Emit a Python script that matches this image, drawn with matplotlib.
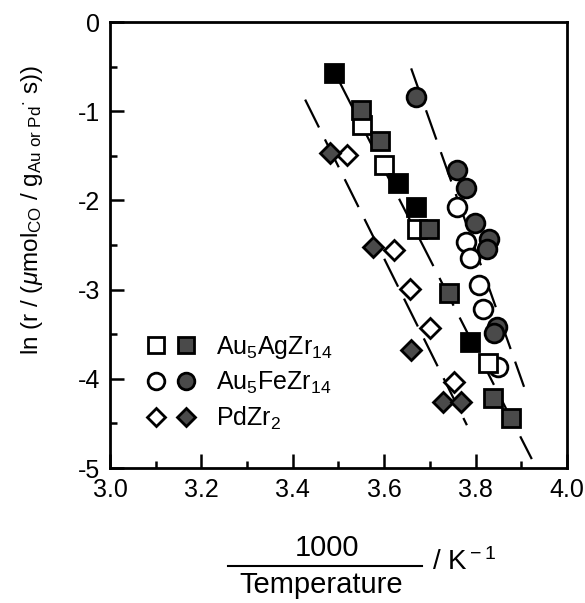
import numpy as np
import matplotlib
matplotlib.use('Agg')
import matplotlib.pyplot as plt
from matplotlib.legend_handler import HandlerTuple
from matplotlib.lines import Line2D
from matplotlib.ticker import MultipleLocator

matplotlib.rcParams['font.family'] = ['Liberation Sans', 'DejaVu Sans']
matplotlib.rcParams['mathtext.fontset'] = 'custom'
matplotlib.rcParams['mathtext.rm'] = 'Liberation Sans'
matplotlib.rcParams['mathtext.it'] = 'Liberation Sans:italic'

# ---------------------------------------------------------------- data
# Au5AgZr14 (squares): open / shaded / solid black
agX_open = [3.551, 3.600, 3.671, 3.827]
agY_open = [-1.15, -1.60, -2.32, -3.82]
agX_shad = [3.549, 3.591, 3.698, 3.742, 3.838, 3.877]
agY_shad = [-0.99, -1.33, -2.32, -3.04, -4.22, -4.44]
agX_blk = [3.490, 3.630, 3.670, 3.788]
agY_blk = [-0.57, -1.81, -2.07, -3.59]

# Au5FeZr14 (circles)
feX_open = [3.759, 3.779, 3.788, 3.807, 3.816, 3.849]
feY_open = [-2.07, -2.47, -2.65, -2.95, -3.22, -3.87]
feX_shad = [3.670, 3.759, 3.779, 3.799, 3.830, 3.825, 3.847, 3.840]
feY_shad = [-0.84, -1.66, -1.86, -2.25, -2.43, -2.55, -3.42, -3.49]

# PdZr2 (diamonds)
pdX_open = [3.519, 3.621, 3.656, 3.700, 3.753]
pdY_open = [-1.49, -2.56, -2.99, -3.43, -4.04]
pdX_shad = [3.481, 3.576, 3.659, 3.729, 3.768]
pdY_shad = [-1.47, -2.52, -3.68, -4.26, -4.26]

# fitted Arrhenius lines (end points)
fitPd = ([3.427, 3.781], [-0.87, -4.52])
fitAg = ([3.500, 3.923], [-0.65, -4.90])
fitFe = ([3.659, 3.906], [-0.52, -4.09])

labels = [r'Au$_5$AgZr$_{14}$', r'Au$_5$FeZr$_{14}$', r'PdZr$_2$']

# ---------------------------------------------------------------- plot
shade = '#4a4a4a'
ms_sq, ms_ci, ms_di = 12.5, 13.5, 10

fig = plt.figure(figsize=(5.85, 6.03), dpi=100)
ax = fig.add_axes([110/585, 1-468/603, 457/585, 446/603])

for fx, fy in [fitPd, fitAg, fitFe]:
    ax.plot(fx, fy, color='black', lw=1.6, dashes=(14, 6), zorder=1)

def pts(x, y, m, ms, fc):
    ax.plot(x, y, ls='none', marker=m, ms=ms, mfc=fc, mec='black', mew=2, zorder=3)

pts(pdX_open, pdY_open, 'D', ms_di, 'white')
pts(pdX_shad, pdY_shad, 'D', ms_di, shade)
pts(feX_open, feY_open, 'o', ms_ci, 'white')
pts(feX_shad, feY_shad, 'o', ms_ci, shade)
pts(agX_open, agY_open, 's', ms_sq, 'white')
pts(agX_shad, agY_shad, 's', ms_sq, shade)
pts(agX_blk, agY_blk, 's', ms_sq, 'black')

# legend with paired open/shaded markers
def h(m, ms, fc):
    return Line2D([], [], ls='none', marker=m, ms=ms, mfc=fc, mec='black', mew=2)

lsq, lci, ldi = 11, 12, 9
handles = [(h('s', lsq, 'white'), h('s', lsq, shade)),
           (h('o', lci, 'white'), h('o', lci, shade)),
           (h('D', ldi, 'white'), h('D', ldi, shade))]
ax.legend(handles, labels, handler_map={tuple: HandlerTuple(ndivide=None, pad=0.4)},
          loc='lower left', bbox_to_anchor=(0.03, 0.03), frameon=False,
          fontsize=18, handlelength=2.0, labelspacing=0.36, handletextpad=0.8)

ax.set_xlim(3.0, 4.0)
ax.set_ylim(-5, 0)
ax.xaxis.set_minor_locator(MultipleLocator(0.1))
ax.yaxis.set_minor_locator(MultipleLocator(0.5))
ax.set_xticks(np.arange(3.0, 4.01, 0.2))
ax.set_xticklabels(['%.1f' % v for v in np.arange(3.0, 4.01, 0.2)])
ax.set_yticks(np.arange(-5, 0.1, 1))
ax.set_yticklabels(['%d' % v for v in np.arange(-5, 1, 1)])
ax.tick_params(which='both', direction='in', labelsize=18, width=1.8)
ax.tick_params(which='major', length=10, pad=7)
ax.tick_params(which='minor', length=5)
for s in ax.spines.values():
    s.set_linewidth(2)

ax.set_ylabel(r'ln (r / ($\mu$mol$_{\rm CO}$ / g$_{\rm Au\ or\ Pd}$$^{\cdot}$ s))',
              fontsize=17.5)
ax.yaxis.set_label_coords(-0.142, 0.578)

# x label as a fraction
fig.text(327/585, 1-548/603, '1000', ha='center', va='center', fontsize=21)
fig.add_artist(Line2D([228/585, 422/585], [1-566/603, 1-566/603], color='black', lw=1.5))
fig.text(321/585, 1-585/603, 'Temperature', ha='center', va='center', fontsize=21)
fig.text(432/585, 1-562/603, r'/ K$^{\rm -1}$', ha='left', va='center', fontsize=20)

plt.savefig('out.png', dpi=100)
